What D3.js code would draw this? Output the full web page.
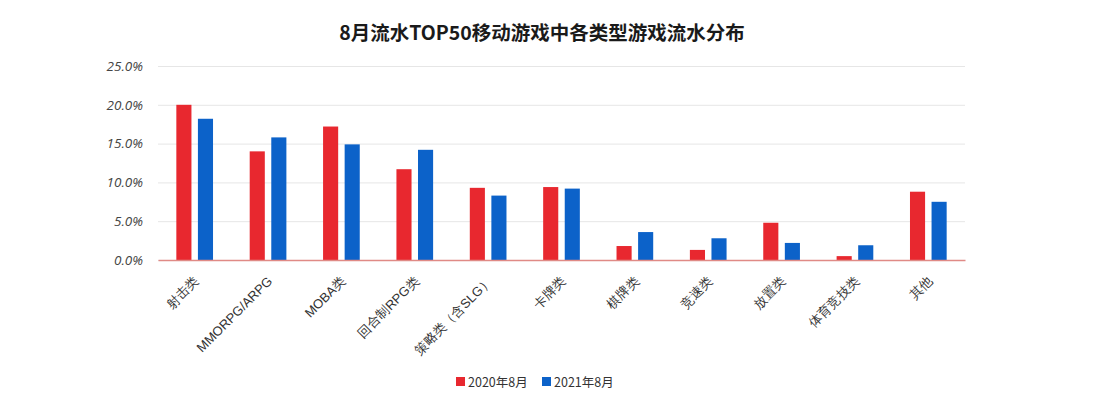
<!DOCTYPE html>
<html><head><meta charset="utf-8">
<script src="https://cdn.jsdelivr.net/npm/d3@7"></script>
<style>body{margin:0;background:#fff;}svg{display:block;font-family:"Noto Sans CJK SC","Noto Sans",sans-serif;}</style>
</head><body><svg id="c" width="1106" height="402"></svg>
<script>
const categories = ["射击类","MMORPG/ARPG","MOBA类","回合制RPG类","策略类（含SLG）","卡牌类","棋牌类","竞速类","放置类","体育竞技类","其他"];
const series2020 = [20.0,14.0,17.2,11.7,9.3,9.4,1.8,1.3,4.8,0.5,8.8];
const series2021 = [18.2,15.8,14.9,14.2,8.3,9.2,3.6,2.8,2.2,1.9,7.5];
const seriesNames = ["2020年8月","2021年8月"];
const yTicks = [0,5,10,15,20,25];
const colors = ["#e8282f","#0c62c9"];

const svg = d3.select("#c");
const m = {l:158, r:965, t:66, b:260};
const x = d3.scaleBand().domain(categories).range([m.l, m.r]).paddingInner(0).paddingOuter(0);
const y = d3.scaleLinear().domain([0,25]).range([m.b, m.t]);
const inner = d3.scaleBand().domain([0,1]).range([0, x.bandwidth()]).paddingInner(0.3).paddingOuter(0.85);

svg.append("text").attr("x",542).attr("y",40).attr("text-anchor","middle")
  .attr("font-size",19.5).attr("font-weight","bold").attr("fill","#1a1a1a")
  .text("8月流水TOP50移动游戏中各类型游戏流水分布");

// grid
const yAxis = d3.axisLeft(y).tickValues(yTicks).tickSize(-(m.r-m.l)).tickFormat(d=>d.toFixed(1)+"%");
const ga = svg.append("g").attr("transform",`translate(${m.l},0)`).call(yAxis);
ga.select(".domain").remove();
ga.selectAll(".tick line").attr("stroke","#e6e6e6");
ga.selectAll(".tick text").attr("x",-15).attr("font-size",13.5).attr("fill","#444")
  .attr("font-style","italic").attr("font-family","'Open Sans',sans-serif");

const data = categories.map((c,i)=>({c, v:[series2020[i], series2021[i]]}));
const g = svg.append("g");
data.forEach(d=>{
  d.v.forEach((v,k)=>{
    g.append("rect").attr("x", x(d.c)+inner(k)).attr("width", inner.bandwidth())
     .attr("y", y(v)).attr("height", y(0)-y(v)).attr("fill", colors[k]);
  });
});

// baseline
const xAxis = d3.axisBottom(x).tickSize(0).tickPadding(0);
const gx = svg.append("g").attr("transform",`translate(0,${m.b})`).call(xAxis);
gx.select(".domain").attr("stroke","#e08a86").attr("stroke-width",1.5);
gx.selectAll(".tick text").attr("font-size",13).attr("fill","#333")
  .attr("text-anchor","end").attr("dy",0)
  .attr("transform","translate(5,22) rotate(-45)");

// legend
const lg = svg.append("g").attr("transform","translate(456,382)");
const lx = [0, 86];
seriesNames.forEach((n,k)=>{
  lg.append("rect").attr("x",lx[k]).attr("y",-5).attr("width",9).attr("height",9).attr("fill",colors[k]);
  lg.append("text").attr("x",lx[k]+12).attr("y",5).attr("font-size",12.5).attr("fill","#333").text(n);
});
</script></body></html>
